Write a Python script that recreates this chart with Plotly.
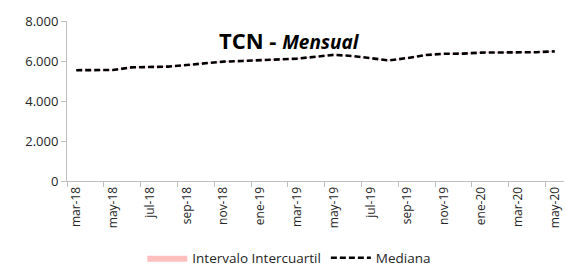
import plotly.graph_objects as go

months = ["mar-18", "abr-18", "may-18", "jun-18", "jul-18", "ago-18", "sep-18", "oct-18",
          "nov-18", "dic-18", "ene-19", "feb-19", "mar-19", "abr-19", "may-19", "jun-19",
          "jul-19", "ago-19", "sep-19", "oct-19", "nov-19", "dic-19", "ene-20", "feb-20",
          "mar-20", "abr-20", "may-20"]
mediana = [5540, 5540, 5550, 5680, 5690, 5720, 5800, 5900, 5970, 6000, 6030, 6070, 6120,
           6210, 6310, 6250, 6150, 6030, 6150, 6300, 6360, 6370, 6420, 6420, 6420, 6440, 6480]
q1 = [5525, 5525, 5535, 5665, 5675, 5705, 5785, 5885, 5955, 5985, 6015, 6055, 6105,
      6195, 6295, 6235, 6135, 6015, 6135, 6285, 6345, 6355, 6405, 6405, 6405, 6425, 6465]
q3 = [5555, 5555, 5565, 5695, 5705, 5735, 5815, 5915, 5985, 6015, 6045, 6085, 6135,
      6225, 6325, 6265, 6165, 6045, 6165, 6315, 6375, 6385, 6435, 6435, 6435, 6455, 6495]
y_ticks = [0, 2000, 4000, 6000, 8000]
y_labels = ["0", "2.000", "4.000", "6.000", "8.000"]

FONT = "Open Sans"
AXIS = "#BFBFBF"

fig = go.Figure()
fig.add_trace(go.Scatter(x=months, y=q1, mode="lines", line=dict(width=0, color="#FFBFBF"),
                         showlegend=False, hoverinfo="skip"))
fig.add_trace(go.Scatter(x=months, y=q3, mode="lines", line=dict(width=0, color="#FFBFBF"),
                         fill="tonexty", fillcolor="#FFBFBF", name="Intervalo Intercuartil"))
fig.add_trace(go.Scatter(x=months, y=mediana, mode="lines", name="Mediana",
                         line=dict(color="black", width=2.6, dash="6px,3px")))

fig.update_layout(
    width=565, height=266,
    margin=dict(l=67, r=1, t=21, b=85, autoexpand=False),
    paper_bgcolor="white", plot_bgcolor="white",
    font=dict(family=FONT, size=12, color="#262626"),
    showlegend=True,
    legend=dict(orientation="h", x=0.512, xanchor="center", xref="container",
                y=0.03, yanchor="middle", yref="container",
                font=dict(size=13.5), itemwidth=40, traceorder="normal"),
    annotations=[dict(text="<b>TCN - </b><b><i><span style='font-size:19px'>Mensual</span></i></b>",
                      x=0.447, y=0.99, xref="paper", yref="paper", showarrow=False,
                      font=dict(size=22, color="black", family=FONT))],
)
fig.update_xaxes(
    type="category", range=[-0.5, 26.5], dtick=2, tick0=0, tickangle=-90,
    tickson="boundaries", ticks="outside", ticklen=5, tickcolor=AXIS,
    showline=True, linecolor=AXIS, linewidth=1, showgrid=False,
    tickfont=dict(size=12, color="#262626"), ticklabeloverflow="allow", automargin=False,
)
fig.update_yaxes(
    range=[0, 8000], tickvals=y_ticks, ticktext=y_labels,
    ticks="outside", ticklen=5, tickcolor=AXIS,
    showline=True, linecolor=AXIS, linewidth=1, showgrid=False, zeroline=False,
    tickfont=dict(size=13, color="#262626"), automargin=False,
)

fig.write_html("out.html", config={"displayModeBar": False},
               post_script="document.body.style.margin='0';document.body.style.overflow='hidden';")
